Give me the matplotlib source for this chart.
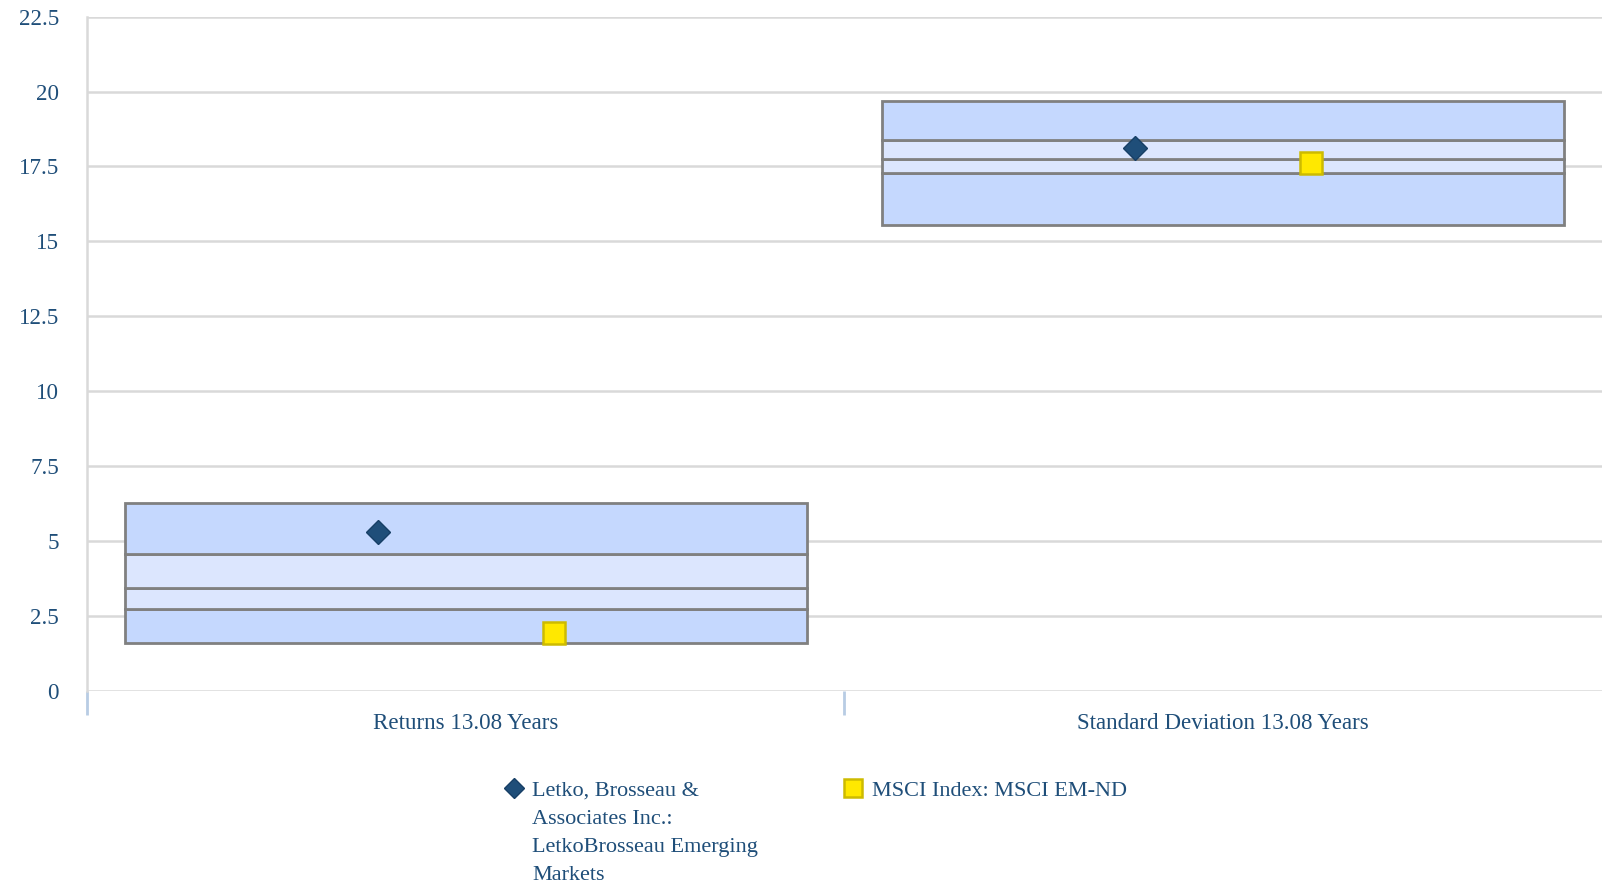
import matplotlib
matplotlib.use("Agg")
import matplotlib.pyplot as plt
import numpy as np

plt.rcParams['font.family'] = ['Liberation Serif', 'DejaVu Serif']

# categories and percentile bands (5th, 25th, median, 75th, 95th)
categories = ["Returns 13.08 Years", "Standard Deviation 13.08 Years"]
p05 = [1.60, 15.55]
p25 = [2.74, 17.29]
p50 = [3.43, 17.74]
p75 = [4.57, 18.38]
p95 = [6.28, 19.70]

# series values
letko = [5.31, 18.12]
msci = [1.94, 17.62]
letko_label = "Letko, Brosseau &\nAssociates Inc.:\nLetkoBrosseau Emerging\nMarkets"
msci_label = "MSCI Index: MSCI EM-ND"

yticks = [0, 2.5, 5, 7.5, 10, 12.5, 15, 17.5, 20, 22.5]

text_col = "#1F4E79"
dark_band = "#C5D8FE"
light_band = "#DCE6FE"
box_edge = "#808080"
fs = 16.6
legend_fs = 16

fig = plt.figure(figsize=(16.02, 8.86), dpi=100)
ax = fig.add_axes([0.0542, 0.2204, 0.9458, 0.7608])

x = np.arange(len(categories))
width = 0.9
bands = [(p05, p25, dark_band), (p25, p50, light_band),
         (p50, p75, light_band), (p75, p95, dark_band)]
for lo, hi, col in bands:
    ax.bar(x, np.array(hi) - np.array(lo), bottom=lo, width=width,
           color=col, edgecolor=box_edge, linewidth=2, zorder=2)

off = 0.116
ax.plot(x - off, letko, linestyle="none", marker="D", markersize=12,
        markerfacecolor="#1F4E79", markeredgecolor="#173F66",
        markeredgewidth=1, zorder=4)
ax.plot(x + off, msci, linestyle="none", marker="s", markersize=16,
        markerfacecolor="#FFE800", markeredgecolor="#CDBB00",
        markeredgewidth=1.8, zorder=4)

ax.set_xlim(-0.5, len(categories) - 0.5)
ax.set_ylim(0, 22.5)
ax.set_yticks(yticks)
ax.set_yticklabels(["%g" % v for v in yticks])
ax.tick_params(axis="y", length=0, pad=20, labelsize=fs, labelcolor=text_col)

# boundary ticks between categories, labels at centres
ax.set_xticks(np.arange(-0.5, len(categories) - 1))
ax.set_xticklabels([])
ax.set_xticks(x, minor=True)
ax.set_xticklabels(categories, minor=True)
ax.tick_params(axis="x", which="major", length=17, width=2, color="#B8CCE4",
               direction="out")
ax.tick_params(axis="x", which="minor", length=0, pad=16, labelsize=fs,
               labelcolor=text_col)

ax.grid(axis="y", color="#D9D9D9", linewidth=1.8, zorder=0)
ax.set_axisbelow(True)
for s in ["top", "right", "bottom"]:
    ax.spines[s].set_visible(False)
ax.spines["left"].set_color("#D9D9D9")
ax.spines["left"].set_linewidth(1.8)

# legend
fig.text(532 / 1602, 1 - 782 / 886, letko_label, fontsize=legend_fs, color=text_col,
         va="top", ha="left", linespacing=1.65)
fig.text(871.5 / 1602, 1 - 782 / 886, msci_label, fontsize=legend_fs, color=text_col,
         va="top", ha="left")
fig.lines.append(plt.Line2D([514 / 1602], [1 - 788 / 886], transform=fig.transFigure,
                            marker="D", markersize=10.5, linestyle="none",
                            markerfacecolor="#1F4E79", markeredgecolor="#173F66"))
fig.lines.append(plt.Line2D([853 / 1602], [1 - 788 / 886], transform=fig.transFigure,
                            marker="s", markersize=13, linestyle="none",
                            markerfacecolor="#FFE800", markeredgecolor="#CDBB00",
                            markeredgewidth=1.8))

fig.savefig("out.png", dpi=100)
